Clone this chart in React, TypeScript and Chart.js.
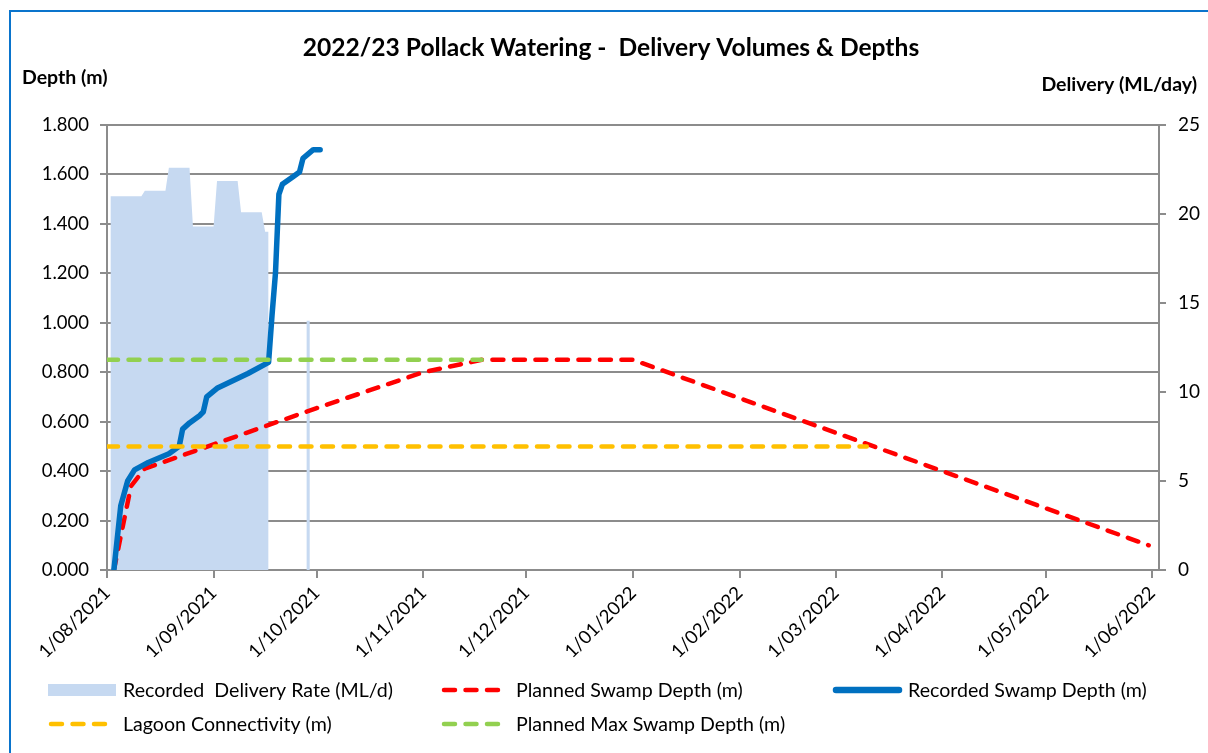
import React, { useEffect, useRef } from "react";
import { Chart, registerables } from "chart.js";

Chart.register(...registerables);

// ---------- text ----------
const chartTitle = "2022/23 Pollack Watering -  Delivery Volumes & Depths";
const leftAxisTitle = "Depth (m)";
const rightAxisTitle = "Delivery (ML/day)";

// ---------- x axis (days since 1/08/2021) ----------
const monthTickDays = [0, 31, 61, 92, 122, 153, 184, 212, 243, 273, 304];
const monthTickLabels = [
  "1/08/2021",
  "1/09/2021",
  "1/10/2021",
  "1/11/2021",
  "1/12/2021",
  "1/01/2022",
  "1/02/2022",
  "1/03/2022",
  "1/04/2022",
  "1/05/2022",
  "1/06/2022",
];

// ---------- series ----------
const deliveryDays = [1, 10, 11, 17, 18, 24, 25, 31, 32, 38, 39, 45, 46, 47, 52, 58, 59];
const deliveryRates = [21.0, 21.0, 21.3, 21.3, 22.6, 22.6, 19.3, 19.3, 21.85, 21.85, 20.1, 20.1, 19.0, 19.0, null, 14.0, 14.0];

const plannedDays = [2, 7, 11, 61, 92, 109, 153, 303];
const plannedDepth = [0, 0.34, 0.41, 0.655, 0.8, 0.85, 0.85, 0.1];

const recordedDays = [2, 4, 6, 8, 12, 18, 21, 22, 24, 27, 28, 29, 32, 41, 47, 48, 49, 50, 51, 54, 56, 57, 60, 62];
const recordedDepth = [0, 0.26, 0.36, 0.405, 0.435, 0.47, 0.5, 0.57, 0.595, 0.625, 0.64, 0.7, 0.735, 0.795, 0.84, 1.03, 1.2, 1.52, 1.56, 1.59, 1.61, 1.665, 1.7, 1.7];

const lagoonDays = [0, 221];
const lagoonDepth = [0.5, 0.5];

const maxDepthDays = [0, 109];
const maxDepth = [0.85, 0.85];

const legendLabels = [
  "Recorded  Delivery Rate (ML/d)",
  "Planned Swamp Depth (m)",
  "Recorded Swamp Depth (m)",
  "Lagoon Connectivity (m)",
  "Planned Max Swamp Depth (m)",
];

// ---------- styles ----------
const FONT = "Lato, 'Open Sans', sans-serif";
const C_DELIVERY = "#C6D9F1";
const C_PLANNED = "#FF0000";
const C_RECORDED = "#0070C0";
const C_LAGOON = "#FFC000";
const C_MAX = "#92D050";
const C_GRID = "#8C8C8C";

const toXY = (xs: number[], ys: (number | null)[]) => xs.map((x, i) => ({ x, y: ys[i] }));

const W = 1208;
const H = 753;
const AREA = { left: 107, right: 1159, top: 125, bottom: 570 };

const overlayPlugin = {
  id: "overlay",
  beforeDraw(chart: any) {
    const ctx = chart.ctx;
    ctx.save();
    ctx.fillStyle = "#ffffff";
    ctx.fillRect(0, 0, W, H);
    ctx.strokeStyle = "#0A74CC";
    ctx.lineWidth = 2;
    ctx.beginPath();
    ctx.moveTo(10, H + 5);
    ctx.lineTo(10, 11);
    ctx.lineTo(W + 5, 11);
    ctx.stroke();
    ctx.restore();
  },
  afterDraw(chart: any) {
    const ctx = chart.ctx;
    ctx.save();
    ctx.fillStyle = "#000";
    ctx.textBaseline = "alphabetic";
    ctx.font = `bold 24.6px ${FONT}`;
    ctx.textAlign = "center";
    ctx.fillText(chartTitle, 611, 56);
    ctx.font = `bold 19.5px ${FONT}`;
    ctx.textAlign = "left";
    ctx.fillText(leftAxisTitle, 22, 84);
    ctx.textAlign = "right";
    ctx.fillText(rightAxisTitle, 1197, 91);

    // legend
    const items = [
      { kind: "area", color: C_DELIVERY, x: 48, y: 690 },
      { kind: "dash", color: C_PLANNED, x: 441, y: 690 },
      { kind: "solid", color: C_RECORDED, x: 833, y: 690 },
      { kind: "dash", color: C_LAGOON, x: 48, y: 724 },
      { kind: "dash", color: C_MAX, x: 441, y: 724 },
    ];
    items.forEach((it, i) => {
      const sw = 68;
      if (it.kind === "area") {
        ctx.fillStyle = it.color;
        ctx.fillRect(it.x, it.y - 6, sw, 12);
      } else {
        ctx.strokeStyle = it.color;
        ctx.lineCap = "round";
        if (it.kind === "dash") {
          ctx.lineWidth = 4.5;
          ctx.setLineDash([11, 10.5]);
        } else {
          ctx.lineWidth = 6.5;
          ctx.setLineDash([]);
        }
        ctx.beginPath();
        ctx.moveTo(it.x + 3, it.y);
        ctx.lineTo(it.x + sw - 2, it.y);
        ctx.stroke();
        ctx.setLineDash([]);
      }
      ctx.fillStyle = "#000";
      ctx.font = `19.6px ${FONT}`;
      ctx.textAlign = "left";
      ctx.textBaseline = "middle";
      ctx.fillText(legendLabels[i], it.x + sw + 7, it.y + 1);
    });
    ctx.restore();
  },
};

export default function App() {
  const ref = useRef<HTMLCanvasElement | null>(null);

  useEffect(() => {
    if (!ref.current) return;
    const dashed = (label: string, color: string, xs: number[], ys: number[], order: number) => ({
      type: "line" as const,
      label,
      data: toXY(xs, ys),
      yAxisID: "y",
      borderColor: color,
      borderWidth: 4.5,
      borderDash: [11, 10.5],
      borderCapStyle: "round" as const,
      pointRadius: 0,
      fill: false,
      tension: 0,
      order,
    });

    const chart = new Chart(ref.current, {
      type: "line",
      data: {
        datasets: [
          dashed(legendLabels[4], C_MAX, maxDepthDays, maxDepth, 1),
          dashed(legendLabels[3], C_LAGOON, lagoonDays, lagoonDepth, 2),
          {
            type: "line",
            label: legendLabels[2],
            data: toXY(recordedDays, recordedDepth),
            yAxisID: "y",
            borderColor: C_RECORDED,
            borderWidth: 5.5,
            borderCapStyle: "round",
            borderJoinStyle: "round",
            pointRadius: 0,
            fill: false,
            tension: 0,
            order: 3,
          },
          dashed(legendLabels[1], C_PLANNED, plannedDays, plannedDepth, 4),
          {
            type: "line",
            label: legendLabels[0],
            data: toXY(deliveryDays, deliveryRates),
            yAxisID: "y1",
            borderWidth: 0,
            borderColor: "rgba(0,0,0,0)",
            backgroundColor: C_DELIVERY,
            pointRadius: 0,
            fill: "origin",
            spanGaps: false,
            tension: 0,
            order: 10,
          },
        ] as any,
      },
      options: {
        responsive: false,
        animation: false,
        parsing: true,
        layout: { padding: { top: AREA.top, left: 0, right: 0, bottom: 0 } },
        plugins: {
          legend: { display: false },
          title: { display: false },
          tooltip: { enabled: false },
        },
        scales: {
          x: {
            type: "linear",
            min: 0,
            max: 306,
            afterFit(scale: any) {
              scale.height = H - AREA.bottom;
            },
            afterBuildTicks(scale: any) {
              scale.ticks = monthTickDays.map((v) => ({ value: v }));
            },
            ticks: {
              autoSkip: false,
              minRotation: 45,
              maxRotation: 45,
              color: "#000",
              font: { family: FONT, size: 18.5 },
              padding: 4,
              callback: (value: any) => {
                const i = monthTickDays.indexOf(Number(value));
                return i >= 0 ? monthTickLabels[i] : "";
              },
            },
            grid: {
              drawOnChartArea: false,
              drawTicks: true,
              tickLength: 8,
              color: C_GRID,
              lineWidth: 2,
            },
            border: { display: true, color: C_GRID, width: 2 },
          },
          y: {
            type: "linear",
            position: "left",
            min: 0,
            max: 1.8,
            afterFit(scale: any) {
              scale.width = AREA.left;
            },
            ticks: {
              stepSize: 0.2,
              color: "#000",
              font: { family: FONT, size: 18.5 },
              padding: 11,
              callback: (value: any) => Number(value).toFixed(3),
            },
            grid: {
              color: C_GRID,
              lineWidth: 2,
              drawTicks: true,
              tickLength: 7,
            },
            border: { display: true, color: C_GRID, width: 2 },
          },
          y1: {
            type: "linear",
            position: "right",
            min: 0,
            max: 25,
            afterFit(scale: any) {
              scale.width = W - AREA.right;
            },
            ticks: {
              stepSize: 5,
              color: "#000",
              font: { family: FONT, size: 19 },
              padding: 12,
            },
            grid: {
              drawOnChartArea: false,
              drawTicks: true,
              tickLength: 7,
              color: C_GRID,
              lineWidth: 2,
            },
            border: { display: true, color: C_GRID, width: 2 },
          },
        },
      } as any,
      plugins: [overlayPlugin],
    });
    return () => chart.destroy();
  }, []);

  return (
    <div style={{ position: "fixed", left: 0, top: 0, width: W, height: H, background: "#fff" }}>
      <canvas ref={ref} width={W} height={H} style={{ display: "block", width: W, height: H }} />
    </div>
  );
}
